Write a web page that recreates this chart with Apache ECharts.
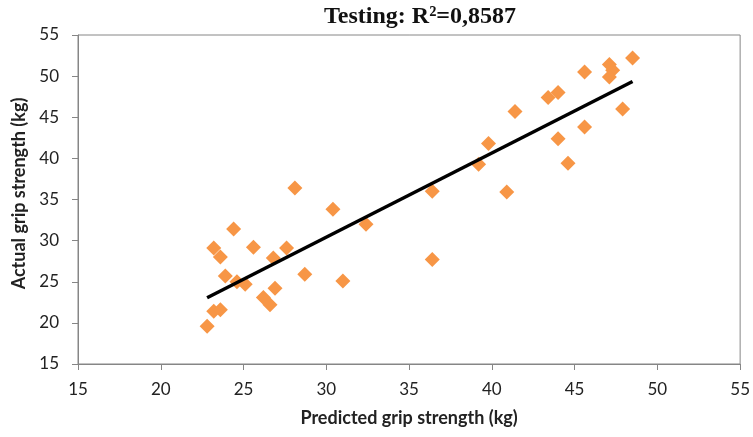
<!DOCTYPE html>
<html>
<head>
<meta charset="utf-8">
<script src="https://cdn.jsdelivr.net/npm/echarts@6/dist/echarts.min.js"></script>
<style>html,body{margin:0;padding:0;background:#fff}#c{width:753px;height:437px}</style>
</head>
<body>
<div id="c"></div>
<script>
const titleText = 'Testing: R\u00B2=0,8587';
const xName = 'Predicted grip strength (kg)';
const yName = 'Actual grip strength (kg)';
const axisMin = 15, axisMax = 55, axisStep = 5;

const predicted = [22.8, 23.2, 23.6, 23.2, 23.6, 23.9, 24.4, 24.6, 25.1, 25.6, 26.2, 26.6, 26.8, 26.9, 27.6, 28.1, 28.7, 30.4, 31.0, 32.4, 36.4, 36.4, 39.2, 39.8, 40.9, 41.4, 43.4, 44.0, 44.0, 44.6, 45.6, 45.6, 47.1, 47.3, 47.1, 48.5, 47.9];
const actual    = [19.6, 21.4, 21.6, 29.1, 28.0, 25.7, 31.4, 25.0, 24.7, 29.2, 23.1, 22.2, 27.9, 24.2, 29.1, 36.4, 25.9, 33.8, 25.1, 32.0, 36.0, 27.7, 39.3, 41.8, 35.9, 45.7, 47.4, 48.0, 42.4, 39.4, 50.5, 43.8, 51.4, 50.7, 49.9, 52.2, 46.0];

const trendX = [22.8, 48.5];
const trendY = [23.05, 49.35];

const chart = echarts.init(document.getElementById('c'), null, {renderer: 'canvas'});
const axisCommon = {
  type: 'value', min: axisMin, max: axisMax, interval: axisStep,
  splitLine: {show: false},
  axisLine: {show: true, lineStyle: {color: '#868686', width: 1}},
  axisTick: {show: true, length: 6, lineStyle: {color: '#868686'}},
  nameLocation: 'middle',
  nameTextStyle: {fontFamily: 'Lato', fontWeight: 'bold', fontSize: 18, color: '#222'}
};
chart.setOption({
  animation: false,
  title: {
    text: titleText, left: 415, top: 0, textAlign: 'center',
    textStyle: {fontFamily: 'Liberation Serif', fontWeight: 'bold', fontSize: 24, color: '#111'}
  },
  grid: {left: 78, right: 12, top: 35, bottom: 73, show: true, borderColor: '#868686', borderWidth: 1, backgroundColor: '#fff'},
  xAxis: Object.assign({}, axisCommon, {
    name: xName, nameGap: 45,
    axisLabel: {margin: 17, fontFamily: 'Lato', fontSize: 17, color: '#222'}
  }),
  yAxis: Object.assign({}, axisCommon, {
    name: yName, nameGap: 46,
    nameTextStyle: Object.assign({}, axisCommon.nameTextStyle, {padding: [0, 0, 0, 12]}),
    axisLabel: {margin: 19, fontFamily: 'Lato', fontSize: 17, color: '#222'}
  }),
  series: [
    {
      type: 'scatter', symbol: 'diamond', symbolSize: 15,
      itemStyle: {color: '#F79646', opacity: 1},
      data: predicted.map((p, i) => [p, actual[i]]), z: 2
    },
    {
      type: 'line', symbol: 'none', z: 3,
      lineStyle: {color: '#000', width: 3.5},
      data: trendX.map((p, i) => [p, trendY[i]])
    }
  ]
});
</script>
</body>
</html>
